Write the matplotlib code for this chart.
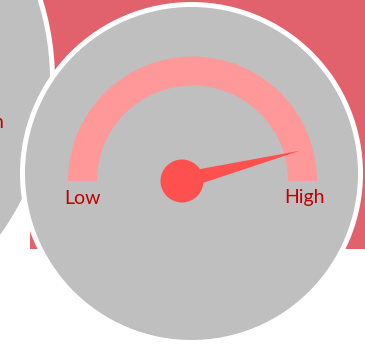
import numpy as np
import matplotlib
matplotlib.use("Agg")
import matplotlib.pyplot as plt
import matplotlib.patches as patches

# gauge data
gauge_labels = ["Low", "High"]
gauge_min = 0.0
gauge_max = 1.0
needle_value = 0.92
side_label = "n"

W, H = 365, 344
BG_RED = "#E1616C"
GREY = "#BFBFBF"
PINK = "#FF9999"
NEEDLE = "#FF5050"
TEXT = "#C00000"

fig = plt.figure(figsize=(W / 100, H / 100), dpi=100)
ax = fig.add_axes([0, 0, 1, 1])
ax.set_xlim(0, W)
ax.set_ylim(H, 0)
ax.set_aspect("equal")
ax.axis("off")

# red panel behind the dials
ax.add_patch(patches.Rectangle((30, 0), W - 30, 249, facecolor=BG_RED, edgecolor="none"))

# left dial (mostly off-canvas)
ax.add_patch(patches.Circle((-215, 80), 270, facecolor="white", edgecolor="none"))
ax.add_patch(patches.Circle((-215, 80), 265, facecolor=GREY, edgecolor="none"))
ax.text(3, 123, side_label, ha="right", va="center", color=TEXT, fontsize=14, family="Lato")

# main dial
cx, cy = 191.5, 173.5
ax.add_patch(patches.Circle((cx, cy), 171.5, facecolor="white", edgecolor="none"))
ax.add_patch(patches.Circle((cx, cy), 166.5, facecolor=GREY, edgecolor="none"))

# gauge band
ax_c = (192.5, 181)
r_out, r_in = 124.5, 95.5
ax.add_patch(patches.Wedge(ax_c, r_out, 180, 360, width=r_out - r_in, facecolor=PINK, edgecolor="none"))

# labels under band ends
ax.text(ax_c[0] - (r_out + r_in) / 2 - 0.5, 198, gauge_labels[0], ha="center", va="center",
        color=TEXT, fontsize=14, family="Lato")
ax.text(ax_c[0] + (r_out + r_in) / 2 + 1.5, 198, gauge_labels[1], ha="center", va="center",
        color=TEXT, fontsize=14, family="Lato")

# needle
hub = (182, 181)
frac = (needle_value - gauge_min) / (gauge_max - gauge_min)
ang = np.pi * (1 - frac)
length = 122
tip = (hub[0] + length * np.cos(ang), hub[1] - length * np.sin(ang))
px, py = np.sin(ang), np.cos(ang)
hw = 8.5
needle = patches.Polygon([(hub[0] + hw * px, hub[1] + hw * py), tip,
                          (hub[0] - hw * px, hub[1] - hw * py)],
                         closed=True, facecolor=NEEDLE, edgecolor="none")
ax.add_patch(needle)
ax.add_patch(patches.Circle(hub, 21.5, facecolor=NEEDLE, edgecolor="none"))

fig.savefig("out.png", dpi=100, facecolor="white")
